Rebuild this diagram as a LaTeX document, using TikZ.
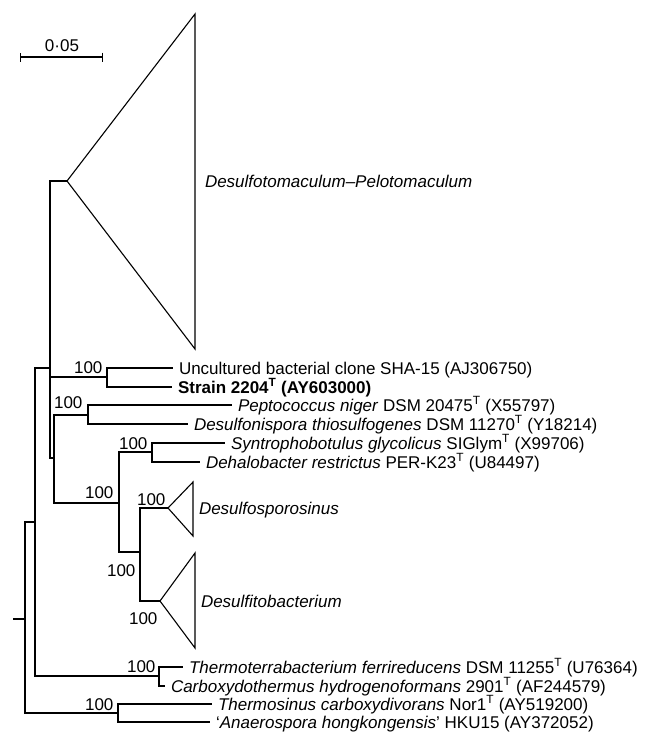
\documentclass[tikz,border=0pt]{standalone}
\usepackage{fontspec}
\setmainfont{Liberation Sans}
\usetikzlibrary{arrows.meta}
\tikzstyle{branch}=[line width=1.1pt, line join=miter]
\tikzstyle{taxon}=[anchor=west, inner xsep=6pt, inner ysep=0pt, outer sep=0pt,% text starts a bit after the leaf
text height=12pt, text depth=0pt, font=\fontsize{17}{20}\selectfont]
\tikzstyle{clade}=[taxon, inner xsep=0pt, font=\fontsize{17}{20}\selectfont\itshape]
\tikzstyle{boot}=[anchor=base east, inner sep=0pt, font=\fontsize{17}{20}\selectfont]

\begin{document}
\begin{tikzpicture}[x=1pt, y=-1pt, branch]
\useasboundingbox (0,0) rectangle (648,736);
% scale bar
\coordinate (sb1) at (20,57);
\coordinate (sb2) at (103,57);
\draw [{Bar[width=9pt]}-{Bar[width=9pt]}] (sb1) -- (sb2);
\node[boot, anchor=base] (sbl) at (62,51) {0·05};
% internal nodes
\coordinate (root) at (13,619);
\coordinate (nA) at (25,619);
\coordinate (nB) at (35,522);
\coordinate (nC) at (50,368);
\coordinate (nU) at (107,377);
\coordinate (nD) at (54,458);
\coordinate (nP) at (88,415);
\coordinate (nE) at (119,503);
\coordinate (nS) at (152,452);
\coordinate (nF) at (140,552);
\coordinate (nT) at (159,676);
\coordinate (nN) at (118,713);
% collapsed clades
\coordinate (aDP) at (67,181);
\coordinate (aDsp) at (168,508);
\coordinate (aDfb) at (160,601);
\draw (aDP) -- (195,14) -- (195,349) -- cycle;
\draw (aDsp) -- (193,482) -- (193,536) -- cycle;
\draw (aDfb) -- (195,553) -- (195,648) -- cycle;
\node[clade] (cDP) at (205,181) {Desulfotomaculum–Pelotomaculum};
\node[clade] (cDsp) at (199,508) {Desulfosporosinus};
\node[clade] (cDfb) at (201,601) {Desulfitobacterium};
% leaves
\node[taxon] (tUnc) at (173,368) {Uncultured bacterial clone SHA-15 (AJ306750)};
\node[taxon] (tStr) at (172,387) {\bfseries Strain 2204\textsuperscript{T} (AY603000)};
\node[taxon] (tPep) at (232,405) {\textit{Peptococcus niger} DSM 20475\textsuperscript{T} (X55797)};
\node[taxon] (tDsn) at (188,424) {\textit{Desulfonispora thiosulfogenes} DSM 11270\textsuperscript{T} (Y18214)};
\node[taxon] (tSyn) at (225,443) {\textit{Syntrophobotulus glycolicus} SIGlym\textsuperscript{T} (X99706)};
\node[taxon] (tDeh) at (200,462) {\textit{Dehalobacter restrictus} PER-K23\textsuperscript{T} (U84497)};
\node[taxon] (tThf) at (183,667) {\textit{Thermoterrabacterium ferrireducens} DSM 11255\textsuperscript{T} (U76364)};
\node[taxon] (tCar) at (165,686) {\textit{Carboxydothermus hydrogenoformans} 2901\textsuperscript{T} (AF244579)};
\node[taxon] (tThs) at (212,704) {\textit{Thermosinus carboxydivorans} Nor1\textsuperscript{T} (AY519200)};
\node[taxon] (tAna) at (210,722) {`\textit{Anaerospora hongkongensis}' HKU15 (AY372052)};
% branches
\draw (root) -- (nA);
\draw (nA) |- (nB);
\draw (nA) |- (nN);
\draw (nB) |- (nC);
\draw (nB) |- (nT);
\draw (nC) |- (aDP);
\draw (nC) |- (nU);
\draw (nC) |- (nD);
\draw (nD) |- (nP);
\draw (nD) |- (nE);
\draw (nE) |- (nS);
\draw (nE) |- (nF);
\draw (nF) |- (aDsp);
\draw (nF) |- (aDfb);
\draw (nU) |- (tUnc.west);
\draw (nU) |- (tStr.west);
\draw (nP) |- (tPep.west);
\draw (nP) |- (tDsn.west);
\draw (nS) |- (tSyn.west);
\draw (nS) |- (tDeh.west);
\draw (nT) |- (tThf.west);
\draw (nT) |- (tCar.west);
\draw (nN) |- (tThs.west);
\draw (nN) |- (tAna.west);
% bootstrap values
\node[boot] (bU) at (103,373) {100};
\node[boot] (bP) at (83,408) {100};
\node[boot] (bE) at (114,498) {100};
\node[boot] (bS) at (148,449) {100};
\node[boot] (bDsp) at (166,505) {100};
\node[boot] (bF) at (136,576) {100};
\node[boot] (bDfb) at (158,624) {100};
\node[boot] (bT) at (156,672) {100};
\node[boot] (bN) at (114,710) {100};
\end{tikzpicture}
\end{document}
